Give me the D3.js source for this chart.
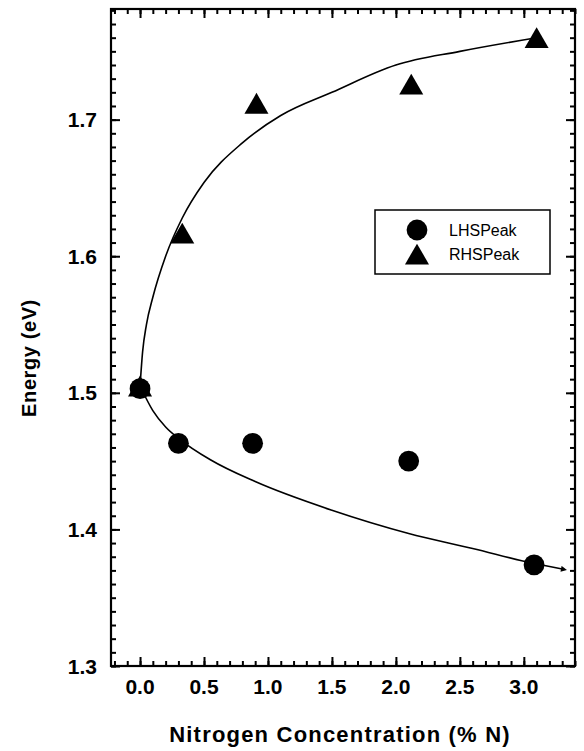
<!DOCTYPE html>
<html>
<head>
<meta charset="utf-8">
<script src="https://cdn.jsdelivr.net/npm/d3@7"></script>
<style>
  body { margin: 0; background: #fff; }
  text { font-family: "Liberation Sans", Arial, sans-serif; }
</style>
</head>
<body>
<svg id="chart"></svg>
<script>
// measured points
const lhsX = [0.0, 0.3, 0.88, 2.1, 3.08];
const lhsY = [1.503, 1.463, 1.463, 1.45, 1.374];
const rhsX = [0.0, 0.33, 0.91, 2.12, 3.1];
const rhsY = [1.505, 1.617, 1.712, 1.726, 1.76];

// fitted curves as drawn
const fitUpX = [0, 0.02, 0.05, 0.1, 0.2, 0.33, 0.5, 0.8, 1.1, 1.5, 2.0, 2.5, 3.1];
const fitUpY = [1.505, 1.53, 1.55, 1.57, 1.60, 1.628, 1.654, 1.683, 1.703, 1.72, 1.74, 1.75, 1.76];
const fitLoX = [0, 0.1, 0.2, 0.31, 0.55, 0.9, 1.5, 2.1, 2.6, 3.08, 3.3];
const fitLoY = [1.505, 1.487, 1.475, 1.466, 1.451, 1.435, 1.414, 1.397, 1.386, 1.375, 1.371];

const xTicks = [0.0, 0.5, 1.0, 1.5, 2.0, 2.5, 3.0];
const yTicks = [1.3, 1.4, 1.5, 1.6, 1.7];

const width = 584, height = 751;
const pLeft = 111, pRight = 575, pTop = 9, pBottom = 666;

const svg = d3.select("#chart").attr("width", width).attr("height", height);

const x = d3.scaleLinear().domain([-0.227, 3.4]).range([pLeft, pRight]);
const y = d3.scaleLinear().domain([1.3, 1.781]).range([pBottom, pTop]);

const minorX = d3.range(-2, 35).map(d => d / 10);
const minorY = d3.range(130, 179).map(d => d / 100);

// axes, ticks pointing inward
const fmt = d3.format(".1f");
const axisG = svg.append("g").attr("class", "axes");

axisG.append("g").attr("transform", `translate(0,${pBottom})`)
  .call(d3.axisTop(x).tickValues(minorX).tickSize(5).tickFormat(""));
axisG.append("g").attr("transform", `translate(0,${pBottom})`)
  .call(d3.axisTop(x).tickValues(xTicks).tickSize(9).tickFormat(""));
axisG.append("g").attr("transform", `translate(0,${pTop})`)
  .call(d3.axisBottom(x).tickValues(minorX).tickSize(5).tickFormat(""));
axisG.append("g").attr("transform", `translate(0,${pTop})`)
  .call(d3.axisBottom(x).tickValues(xTicks).tickSize(9).tickFormat(""));

axisG.append("g").attr("transform", `translate(${pLeft},0)`)
  .call(d3.axisRight(y).tickValues(minorY).tickSize(5).tickFormat(""));
axisG.append("g").attr("transform", `translate(${pLeft},0)`)
  .call(d3.axisRight(y).tickValues(yTicks).tickSize(9).tickFormat(""));
axisG.append("g").attr("transform", `translate(${pRight},0)`)
  .call(d3.axisLeft(y).tickValues(minorY).tickSize(5).tickFormat(""));
axisG.append("g").attr("transform", `translate(${pRight},0)`)
  .call(d3.axisLeft(y).tickValues(yTicks).tickSize(9).tickFormat(""));

axisG.selectAll(".domain").remove();
axisG.selectAll("line").attr("stroke", "#000").attr("stroke-width", 2);

svg.append("rect")
  .attr("x", pLeft).attr("y", pTop)
  .attr("width", pRight - pLeft).attr("height", pBottom - pTop)
  .attr("fill", "none").attr("stroke", "#000").attr("stroke-width", 2.2);

// tick labels
svg.append("g").selectAll("text").data(xTicks).join("text")
  .attr("x", d => x(d)).attr("y", 694)
  .attr("text-anchor", "middle")
  .attr("font-size", 21).attr("font-weight", "bold")
  .text(d => fmt(d));

svg.append("g").selectAll("text").data(yTicks).join("text")
  .attr("x", 97).attr("y", d => y(d) + 7.5)
  .attr("text-anchor", "end")
  .attr("font-size", 21).attr("font-weight", "bold")
  .text(d => fmt(d));

// axis titles
svg.append("text")
  .attr("x", 340).attr("y", 742)
  .attr("text-anchor", "middle")
  .attr("font-size", 22).attr("font-weight", "bold")
  .attr("letter-spacing", 1.2)
  .text("Nitrogen Concentration (% N)");

svg.append("text")
  .attr("transform", "translate(36,358) rotate(-90)")
  .attr("text-anchor", "middle")
  .attr("font-size", 20).attr("font-weight", "bold")
  .attr("letter-spacing", 0.6)
  .text("Energy (eV)");

// fit curves
svg.append("defs").append("marker")
  .attr("id", "arrow").attr("viewBox", "0 0 10 10")
  .attr("refX", 2).attr("refY", 5)
  .attr("markerWidth", 9).attr("markerHeight", 6)
  .attr("markerUnits", "userSpaceOnUse")
  .attr("orient", "auto")
  .append("path").attr("d", "M0,0 L10,5 L0,10 Z").attr("fill", "#000");

const line = d3.line()
  .x(d => x(d[0])).y(d => y(d[1]))
  .curve(d3.curveMonotoneX);

svg.append("path")
  .datum(d3.zip(fitUpX, fitUpY))
  .attr("d", line)
  .attr("fill", "none").attr("stroke", "#000").attr("stroke-width", 1.6);

svg.append("path")
  .datum(d3.zip(fitLoX, fitLoY))
  .attr("d", line)
  .attr("fill", "none").attr("stroke", "#000").attr("stroke-width", 1.6)
  .attr("marker-end", "url(#arrow)");

// markers
const circleSym = d3.symbol().type(d3.symbolCircle).size(340);
const triSym = d3.symbol().type(d3.symbolTriangle).size(250);

svg.append("g").selectAll("path").data(d3.zip(lhsX, lhsY)).join("path")
  .attr("transform", d => `translate(${x(d[0])},${y(d[1])})`)
  .attr("d", circleSym).attr("fill", "#000");

svg.append("g").selectAll("path").data(d3.zip(rhsX, rhsY)).join("path")
  .attr("transform", d => `translate(${x(d[0])},${y(d[1]) + 3.5})`)
  .attr("d", triSym).attr("fill", "#000");

// legend
const lg = svg.append("g").attr("transform", "translate(375,210)");
lg.append("rect").attr("width", 175).attr("height", 64)
  .attr("fill", "#fff").attr("stroke", "#000").attr("stroke-width", 1.5);
const legendItems = [["LHSPeak", circleSym, 0], ["RHSPeak", triSym, 3.5]];
legendItems.forEach((item, i) => {
  lg.append("path")
    .attr("transform", `translate(42,${20 + i * 24 + item[2]})`)
    .attr("d", item[1]).attr("fill", "#000");
  lg.append("text")
    .attr("x", 74).attr("y", 26 + i * 24)
    .attr("font-size", 16)
    .text(item[0]);
});
</script>
</body>
</html>
